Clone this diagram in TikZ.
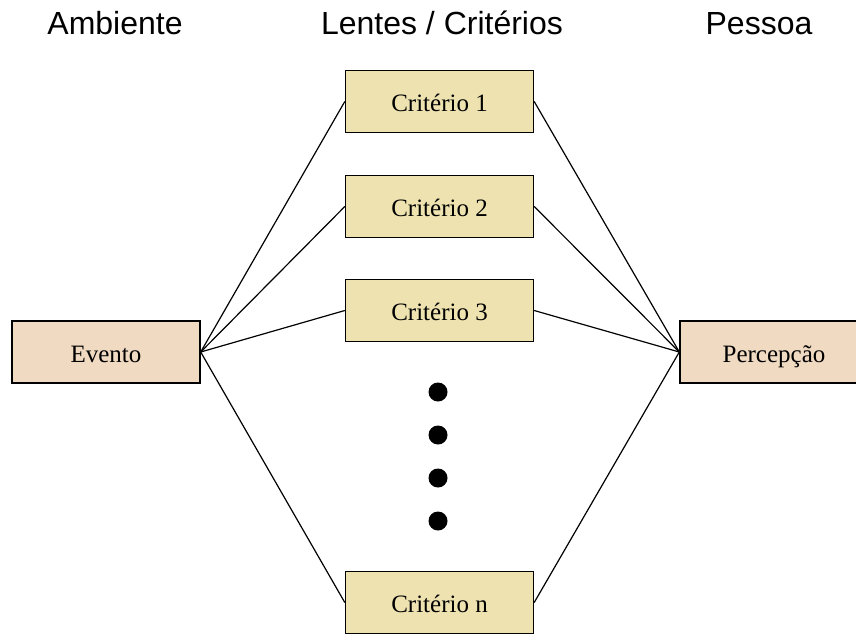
\documentclass[tikz,border=0pt]{standalone}
\usepackage{fontspec}
\setmainfont{Liberation Serif}
\newfontfamily\headfont{Liberation Sans}
\definecolor{peach}{RGB}{241,218,194}
\definecolor{khaki}{RGB}{238,227,176}
\begin{document}
\begin{tikzpicture}[x=1pt,y=-1pt,
  box/.style={draw=black,line width=1.4pt,minimum width=188pt,minimum height=62pt,
    inner sep=0pt,text height=25pt,text depth=4.5pt,font=\fontsize{25}{30}\selectfont},
  endbox/.style={box,fill=peach},
  critbox/.style={box,fill=khaki},
  head/.style={inner sep=0pt,anchor=base,font=\headfont\fontsize{32}{38}\selectfont},
  link/.style={draw=black,line width=1.2pt},
  dot/.style={circle,fill=black,inner sep=0pt,minimum size=19pt}]
\useasboundingbox (0,0) rectangle (856,634);

% column headings
\node[head] (hamb) at (115,35) {Ambiente};
\node[head] (hlen) at (442,35) {Lentes / Critérios};
\node[head] (hpes) at (759,35) {Pessoa};

% event and perception
\node[endbox] (evento) at (106,352) {Evento};
\node[endbox] (perc) at (774,352) {Percepção};

% criteria
\node[critbox] (c1) at (439.5,101.5) {Critério 1};
\node[critbox] (c2) at (439.5,206.5) {Critério 2};
\node[critbox] (c3) at (439.5,310.5) {Critério 3};
\node[critbox] (cn) at (439.5,602.5) {Critério n};

% ellipsis dots
\node[dot] (d1) at (438,392) {};
\node[dot] (d2) at (438,435) {};
\node[dot] (d3) at (438,478) {};
\node[dot] (d4) at (438,521) {};

% links
\foreach \c in {c1,c2,c3,cn}{
  \draw[link] (evento.east) -- (\c.west);
  \draw[link] (\c.east) -- (perc.west);
}
\end{tikzpicture}
\end{document}
